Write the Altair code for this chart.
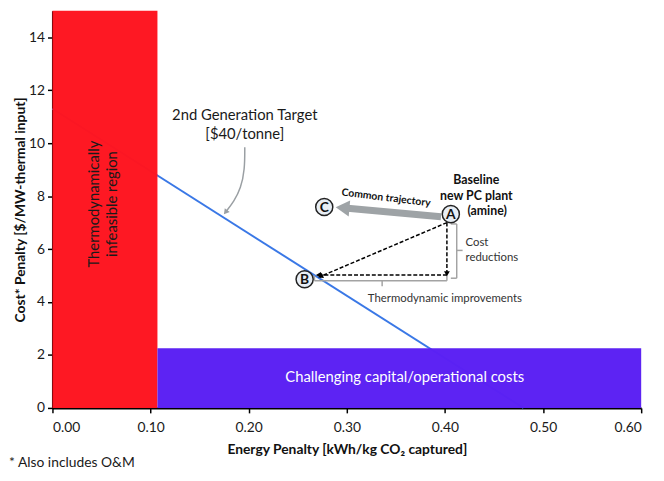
import math
import altair as alt
import pandas as pd

FONT = "Lato"
W, H = 596, 402
XMAX, YMAX = 0.6, 15

# ---- regions and target line ----
red_x = [0.0, 0.107]
red_y = [0.0, 15.0]
purple_x = [0.107, 0.6]
purple_y = [0.0, 2.25]
target_x = [0.0, 0.48]
target_y = [11.3, 0.0]

# ---- labelled points ----
pt_labels = ["A", "B", "C"]
pt_x = [0.406, 0.257, 0.277]
pt_y = [7.32, 4.86, 7.59]

# ---- dashed arrows (x1, y1, x2, y2) ----
dash_x1 = [0.402, 0.402, 0.402]
dash_y1 = [7.0, 5.02, 7.0]
dash_x2 = [0.402, 0.272, 0.274]
dash_y2 = [5.1, 5.02, 4.98]

# ---- common trajectory arrow ----
traj_x = [0.396, 0.298]
traj_y = [7.22, 7.55]

# ---- grey brackets (x1, y1, x2, y2) ----
br_x1 = [0.406, 0.412, 0.412, 0.412, 0.267, 0.267, 0.402, 0.336]
br_y1 = [6.95, 6.95, 4.9, 5.95, 5.0, 4.8, 4.8, 4.8]
br_x2 = [0.412, 0.412, 0.406, 0.418, 0.267, 0.402, 0.402, 0.336]
br_y2 = [6.95, 4.9, 4.9, 5.95, 4.8, 4.8, 5.0, 4.6]

# ---- curved callout arrow ----
curve_x = [0.196, 0.196, 0.192, 0.185, 0.177]
curve_y = [9.85, 9.0, 8.3, 7.8, 7.42]

# ---- ticks ----
x_ticks = [0.0, 0.1, 0.2, 0.3, 0.4, 0.5, 0.6]
y_ticks = [0, 2, 4, 6, 8, 10, 12, 14]

sx, sy = W / XMAX, H / YMAX


def angle(x1, y1, x2, y2):
    dx = (x2 - x1) * sx
    dy = -(y2 - y1) * sy
    return (math.degrees(math.atan2(dx, -dy)) + 360) % 360


xs = alt.Scale(domain=[0, XMAX], nice=False, zero=False)
ys = alt.Scale(domain=[0, YMAX], nice=False, zero=False)

X = lambda f, **k: alt.X(f, type="quantitative", scale=xs, **k)
Y = lambda f, **k: alt.Y(f, type="quantitative", scale=ys, **k)

axis_x = alt.Axis(values=x_ticks, format=".2f", grid=False,
                  title="Energy Penalty [kWh/kg CO₂ captured]")
axis_y = alt.Axis(values=y_ticks, grid=False,
                  title="Cost* Penalty [$/MW-thermal input]")

# target line (drawn under the regions)
line_df = pd.DataFrame({"x": target_x, "y": target_y})
target = alt.Chart(line_df).mark_line(color="#3A78E6", strokeWidth=2).encode(
    x=X("x", axis=axis_x), y=Y("y", axis=axis_y))

rect_df = pd.DataFrame({
    "x": [red_x[0], purple_x[0]], "x2": [red_x[1], purple_x[1]],
    "y": [red_y[0], purple_y[0]], "y2": [red_y[1], purple_y[1]],
    "c": ["#FE1420", "#5A1FF3"]})
rects = alt.Chart(rect_df).mark_rect(opacity=0.985).encode(
    x=X("x"), x2="x2", y=Y("y"), y2="y2",
    color=alt.Color("c:N", scale=None))

# callout curve
curve_df = pd.DataFrame({"x": curve_x, "y": curve_y, "o": range(len(curve_x))})
curve = alt.Chart(curve_df).mark_line(color="#9A9FA3", strokeWidth=1.5,
                                      interpolate="basis").encode(
    x=X("x"), y=Y("y"), order="o:Q")
curve_head = alt.Chart(pd.DataFrame({
    "x": [curve_x[-1]], "y": [curve_y[-1]],
    "a": [angle(curve_x[-2], curve_y[-2], curve_x[-1], curve_y[-1])]})
).mark_point(shape="triangle", filled=True, color="#9A9FA3", size=40, opacity=1).encode(
    x=X("x"), y=Y("y"), angle=alt.Angle("a:Q", scale=None))

# brackets
br_df = pd.DataFrame({"x": br_x1, "y": br_y1, "x2": br_x2, "y2": br_y2})
brackets = alt.Chart(br_df).mark_rule(color="#A3A3A3", strokeWidth=1.5).encode(
    x=X("x"), y=Y("y"), x2="x2", y2="y2")

# dashed arrows
dash_df = pd.DataFrame({"x": dash_x1, "y": dash_y1, "x2": dash_x2, "y2": dash_y2})
dashes = alt.Chart(dash_df).mark_rule(color="black", strokeWidth=1.5,
                                      strokeDash=[4, 2]).encode(
    x=X("x"), y=Y("y"), x2="x2", y2="y2")
dash_df["a"] = [angle(a, b, c, d) for a, b, c, d in zip(dash_x1, dash_y1, dash_x2, dash_y2)]
dash_heads = alt.Chart(dash_df).mark_point(shape="triangle", filled=True, color="black",
                                           size=35, opacity=1).encode(
    x=X("x2"), y=Y("y2"), angle=alt.Angle("a:Q", scale=None))

# trajectory arrow
traj_df = pd.DataFrame({"x": [traj_x[0]], "y": [traj_y[0]],
                        "x2": [traj_x[1]], "y2": [traj_y[1]]})
traj = alt.Chart(traj_df).mark_rule(color="#9EA3A6", strokeWidth=7).encode(
    x=X("x"), y=Y("y"), x2="x2", y2="y2")
traj_head = alt.Chart(pd.DataFrame({
    "x": [traj_x[1]], "y": [traj_y[1]],
    "a": [angle(traj_x[0], traj_y[0], traj_x[1], traj_y[1])]})
).mark_point(shape="triangle", filled=True, color="#9EA3A6", size=260, opacity=1).encode(
    x=X("x"), y=Y("y"), angle=alt.Angle("a:Q", scale=None))

# circles + letters
pt_df = pd.DataFrame({"x": pt_x, "y": pt_y, "t": pt_labels})
circles = alt.Chart(pt_df).mark_point(shape="circle", filled=True, fill="#E8EEF5",
                                      stroke="#222222", strokeWidth=1.5, size=300,
                                      opacity=1).encode(x=X("x"), y=Y("y"))
letters = alt.Chart(pt_df).mark_text(font=FONT, fontSize=14, fontWeight="bold",
                                     color="#111111", dy=1).encode(
    x=X("x"), y=Y("y"), text="t:N")


def texts(labels, xv, yv, **kw):
    df = pd.DataFrame({"x": xv, "y": yv, "t": labels})
    base = dict(font=FONT)
    base.update(kw)
    return alt.Chart(df).mark_text(**base).encode(x=X("x"), y=Y("y"), text="t:N")


t_target = texts(["2nd Generation Target", "[$40/tonne]"], [0.196, 0.196], [11.07, 10.33],
                 fontSize=15, color="#1A1A1A")
t_infeas = texts(["Thermodynamically", "infeasible region"], [0.042, 0.061], [7.7, 7.7],
                 fontSize=15, color="#1A1A1A", angle=270)
t_chall = texts(["Challenging capital/operational costs"], [0.359], [1.18],
                fontSize=15, color="white")
t_base = texts(["Baseline", "new PC plant", "(amine)"], [0.432, 0.432, 0.443],
               [8.6, 8.0, 7.42], fontSize=12.5, fontWeight="bold", color="#111111")
t_traj = texts(["Common trajectory"], [0.34], [7.93], fontSize=10.5, fontWeight="bold",
               color="#111111", angle=7)
t_cost = texts(["Cost", "reductions"], [0.421, 0.421], [6.24, 5.68], fontSize=11.5,
               color="#333333", align="left")
t_thermo = texts(["Thermodynamic improvements"], [0.4], [4.13], fontSize=11.5,
                 color="#333333")

foot = alt.Chart(pd.DataFrame({"t": ["* Also includes O&M"]})).mark_text(
    font=FONT, fontSize=14, color="#1A1A1A", align="left", baseline="alphabetic").encode(
    x=alt.value(-44), y=alt.value(H + 60), text="t:N")

chart = alt.layer(
    target, rects, curve, curve_head, brackets, dashes, dash_heads, traj, traj_head,
    circles, letters, t_target, t_infeas, t_chall, t_base, t_traj, t_cost, t_thermo, foot
).properties(
    width=W, height=H,
    autosize=alt.AutoSizeParams(type="none"),
    padding={"left": 45, "top": 0, "right": 15, "bottom": 63},
).configure_view(stroke=None).configure_axis(
    domainColor="black", domainWidth=2, tickColor="black", tickWidth=1.5, tickSize=5,
    labelFont=FONT, labelFontSize=14, labelColor="#1A1A1A",
    titleFont=FONT, titleFontSize=14, titleFontWeight="bold", titleColor="#111111",
).configure_axisX(labelPadding=8, titlePadding=8).configure_axisY(
    titlePadding=1, labelPadding=3)

chart.save("out.html", embed_options={"renderer": "svg", "actions": False})
